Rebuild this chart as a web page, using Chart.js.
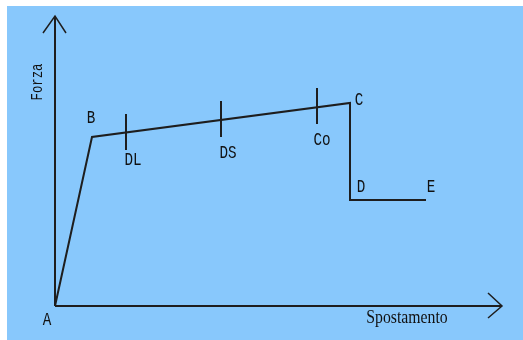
<!DOCTYPE html>
<html>
<head>
<meta charset="utf-8">
<script src="https://cdn.jsdelivr.net/npm/chart.js@4"></script>
<style>
    html, body { margin: 0; padding: 0; background: #ffffff; }
    .box {
        position: absolute;
        left: 7px;
        top: 6px;
        width: 516px;
        height: 334px;
        background: #88c8fc;
    }
</style>
</head>
<body>
<div class="box"><canvas id="forceChart" width="516" height="334"></canvas></div>
<script>
// Curva forza-spostamento (A, B, C, D, E)
const curveX = [0, 37, 295, 295, 371];
const curveY = [0, 169, 203, 106, 106];

// Tacche DL, DS, Co
const markX = [71, 166, 262];
const markLow = [156, 169, 182];
const markHigh = [192, 205, 218];

// Assi con frecce
const yAxisX = [0, 0];
const yAxisY = [0, 290];
const yArrowX = [-12, 0, 11];
const yArrowY = [273, 290, 273];
const xAxisX = [0, 447];
const xAxisY = [0, 0];
const xArrowX = [433, 447, 433];
const xArrowY = [13, 0, -12];

// Etichette dei punti
const pointNames = ['A', 'B', 'C', 'D', 'E', 'DL', 'DS', 'Co'];
const pointNameX = [-8, 36, 304, 306, 376, 78, 173, 267];
const pointNameY = [-14, 188, 206, 119, 119, 146, 153, 166];

const xTitle = 'Spostamento';
const yTitle = 'Forza';

const toPoints = (xs, ys) => xs.map((x, i) => ({ x: x, y: ys[i] }));

function lineSet(points, width) {
    return {
        data: points,
        showLine: true,
        borderColor: '#1e1e1e',
        borderWidth: width,
        pointRadius: 0,
        fill: false,
        tension: 0
    };
}

const datasets = [
    lineSet(toPoints(curveX, curveY), 2),
    lineSet(toPoints(yAxisX, yAxisY), 2),
    lineSet(toPoints(xAxisX, xAxisY), 2),
    lineSet(toPoints(yArrowX, yArrowY), 1.5),
    lineSet(toPoints(xArrowX, xArrowY), 1.5)
];
markX.forEach((x, i) => {
    datasets.push(lineSet([{ x: x, y: markLow[i] }, { x: x, y: markHigh[i] }], 2));
});

// testo un po' piu' alto, come nel disegno originale
function tallText(ctx, text, px, py, angle, sx) {
    ctx.save();
    ctx.translate(px, py);
    if (angle) ctx.rotate(angle);
    ctx.scale(sx, 1.25);
    ctx.fillText(text, 0, 0);
    ctx.restore();
}

// Scrive le etichette sopra il grafico
const labelPlugin = {
    id: 'labelPlugin',
    afterDatasetsDraw(chart) {
        const ctx = chart.ctx;
        const sx = chart.scales.x;
        const sy = chart.scales.y;
        ctx.save();
        ctx.fillStyle = '#111111';
        ctx.textAlign = 'center';
        ctx.textBaseline = 'middle';
        ctx.font = '15px "Liberation Mono"';
        pointNames.forEach((name, i) => {
            tallText(ctx, name, sx.getPixelForValue(pointNameX[i]), sy.getPixelForValue(pointNameY[i]), 0, 0.95);
        });

        ctx.font = '15px "Liberation Serif"';
        tallText(ctx, xTitle, sx.getPixelForValue(352), sy.getPixelForValue(-12), 0, 1.05);

        ctx.font = '13px "Liberation Mono"';
        tallText(ctx, yTitle, sx.getPixelForValue(-17), sy.getPixelForValue(224), -Math.PI / 2, 0.95);
        ctx.restore();
    }
};

new Chart(document.getElementById('forceChart'), {
    type: 'scatter',
    data: { datasets: datasets },
    options: {
        responsive: false,
        animation: false,
        layout: { padding: 0 },
        plugins: { legend: { display: false }, tooltip: { enabled: false } },
        scales: {
            x: { type: 'linear', min: -48, max: 468, display: false },
            y: { type: 'linear', min: -34, max: 300, display: false }
        }
    },
    plugins: [labelPlugin]
});
</script>
</body>
</html>
